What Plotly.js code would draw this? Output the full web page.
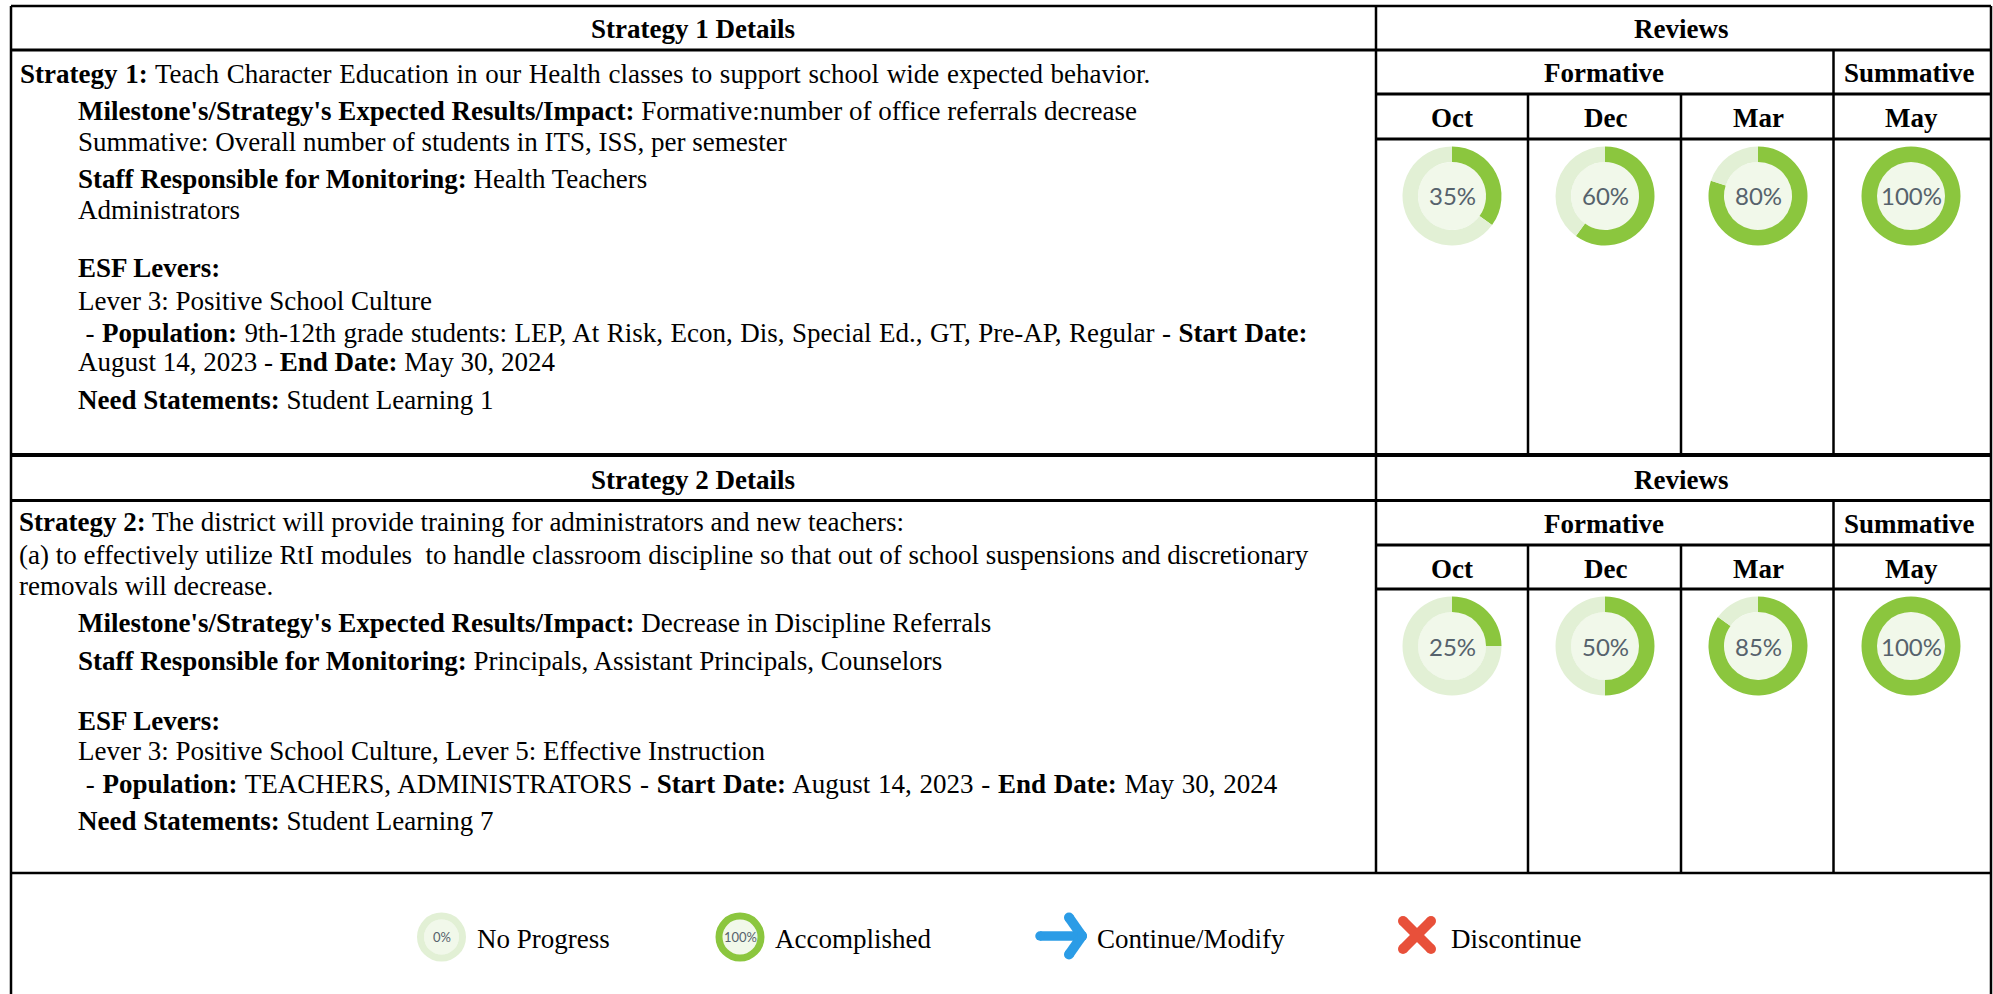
<!DOCTYPE html>
<html><head><meta charset="utf-8">
<script src="https://cdn.plot.ly/plotly-3.0.1.min.js"></script>
<style>html,body{margin:0;padding:0;background:#fff}#c{width:1993px;height:994px}</style>
</head><body><div id="c"></div>
<script>
const months = ['Oct','Dec','Mar','May'];
const strategy1Progress = [35,60,80,100];
const strategy2Progress = [25,50,85,100];
const legendLabels = ['No Progress','Accomplished','Continue/Modify','Discontinue'];
const legendProgress = [0,100];
const strategy1Lines = [
 "<b>Strategy 1:</b> Teach Character Education in our Health classes to support school wide expected behavior.",
 "<b>Milestone's/Strategy's Expected Results/Impact:</b> Formative:number of office referrals decrease",
 "Summative: Overall number of students in ITS, ISS, per semester",
 "<b>Staff Responsible for Monitoring:</b> Health Teachers",
 "Administrators",
 "<b>ESF Levers:</b>",
 "Lever 3: Positive School Culture",
 " - <b>Population:</b> 9th-12th grade students: LEP, At Risk, Econ, Dis, Special Ed., GT, Pre-AP, Regular - <b>Start Date:</b>",
 "August 14, 2023 - <b>End Date:</b> May 30, 2024",
 "<b>Need Statements:</b> Student Learning 1"];
const strategy2Lines = [
 "<b>Strategy 2:</b> The district will provide training for administrators and new teachers:",
 "(a) to effectively utilize RtI modules  to handle classroom discipline so that out of school suspensions and discretionary",
 "removals will decrease.",
 "<b>Milestone's/Strategy's Expected Results/Impact:</b> Decrease in Discipline Referrals",
 "<b>Staff Responsible for Monitoring:</b> Principals, Assistant Principals, Counselors",
 "<b>ESF Levers:</b>",
 "Lever 3: Positive School Culture, Lever 5: Effective Instruction",
 " - <b>Population:</b> TEACHERS, ADMINISTRATORS - <b>Start Date:</b> August 14, 2023 - <b>End Date:</b> May 30, 2024",
 "<b>Need Statements:</b> Student Learning 7"];

const W=1993,H=994, SERIF='"Liberation Serif","Times New Roman",serif', SANS='Lato,"Open Sans",sans-serif';
const GREEN='#8BC63E',TRACK='#E2F0D5',CORE='#F1F8EA';
const px=x=>x/W, py=y=>1-y/H;
const shapes=[],ann=[],data=[];
function line(x0,y0,x1,y1,w,c){shapes.push({type:'line',xref:'paper',yref:'paper',x0:px(x0),x1:px(x1),y0:py(y0),y1:py(y1),line:{color:c||'#000',width:w||2}});}
function dot(cx,cy,r,c){shapes.push({type:'circle',xref:'paper',yref:'paper',x0:px(cx-r),x1:px(cx+r),y0:py(cy+r),y1:py(cy-r),fillcolor:c,line:{width:0}});}
function stroke(x0,y0,x1,y1,w,c){line(x0,y0,x1,y1,w,c);dot(x0,y0,w/2,c);dot(x1,y1,w/2,c);}
function txt(x,y,t,o){o=o||{};ann.push({xref:'paper',yref:'paper',x:px(x),y:py(y),text:t,showarrow:false,xanchor:o.anchor||'left',yanchor:'middle',align:o.anchor==='center'?'center':'left',
  font:{family:o.family||SERIF,size:o.size||27,color:o.color||'#000'},borderpad:0});}
function donut(cx,cy,r,v,fs,ri){
  const rin=ri||r*0.69;
  shapes.push({type:'circle',layer:'below',xref:'paper',yref:'paper',x0:px(cx-rin),x1:px(cx+rin),y0:py(cy+rin),y1:py(cy-rin),fillcolor:CORE,line:{width:0}});
  data.push({type:'pie',values:[v,100-v],sort:false,direction:'clockwise',rotation:0,hole:rin/r,textinfo:'none',hoverinfo:'skip',showlegend:false,
    marker:{colors:[GREEN,TRACK],line:{width:0}},domain:{x:[px(cx-r),px(cx+r)],y:[py(cy+r),py(cy-r)]}});
  txt(cx,cy,v+'%',{anchor:'center',family:SANS,size:fs,color:'#56626C'});
}
const L=11,R=1991,CR=1376,cols=[1528,1681,1833.5];
const colC=[1452,1605,1758,1911];
function block(top,rows,vals,det,lines,ys,bottom){
  line(L,rows[0],R,rows[0],top===0?2.5:4);
  line(L,rows[1],R,rows[1],3);
  line(CR,rows[3],R,rows[3],3);
  line(CR,rows[4],R,rows[4],3);
  line(CR,rows[0],CR,bottom,2.5);
  line(cols[0],rows[3],cols[0],bottom,2.5);
  line(cols[1],rows[3],cols[1],bottom,2.5);
  line(cols[2],rows[2],cols[2],bottom,2.5);
  const h=(a,b)=>(a+b)/2;
  txt(693,h(rows[0],rows[1])+(top?2:1.5),det,{anchor:'center'});
  txt(1680.5,h(rows[0],rows[1])+(top?2:1.5),'<b>Reviews</b>',{anchor:'center'});
  txt(1604,h(rows[2],rows[3])+1,'<b>Formative</b>',{anchor:'center'});
  txt(1909.5,h(rows[2],rows[3])+1,'<b>Summative</b>',{anchor:'center'});
  months.forEach((m,i)=>{
    txt(colC[i],h(rows[3],rows[4])+1.5,'<b>'+m+'</b>',{anchor:'center'});
    donut(colC[i],rows[4]+57,49.5,vals[i],24,34);
  });
  lines.forEach((t,i)=>txt(ys[i][0],ys[i][1],t,{}));
}
block(0,[6,50,50,94,139],strategy1Progress,'<b>Strategy 1 Details</b>',strategy1Lines,
 [[19,74],[77,111],[77,142],[77,179],[77,210],[77,268],[77,301],[77,333],[77,362],[77,400]],455);
block(1,[455,500.5,500.5,545,589],strategy2Progress,'<b>Strategy 2 Details</b>',strategy2Lines,
 [[18,522],[18,555],[18,586],[77,623],[77,661],[77,721],[77,751],[77,784],[77,821]],873);
// outer frame
line(L,6,L,994,2.5); line(R,6,R,994,2.5); line(L,873,R,873,2.5);

// legend
donut(441.5,937,24.5,legendProgress[0],13,17.5);
donut(740,937,24.5,legendProgress[1],13,17.5);
const BLUE='#2B9CE6',RED='#E8503A';
stroke(1040,936,1080,936,9.5,BLUE);
stroke(1069,917.5,1082,936,10,BLUE);
stroke(1069,954.5,1082,936,10,BLUE);
stroke(1403,921,1431,949,10,RED);
stroke(1403,949,1431,921,10,RED);
const lx=[476,774,1096,1450];
legendLabels.forEach((t,i)=>txt(lx[i],939,t,{}));

// the wider word spacing of a few long lines of the reference
const wideWords=[['Strategy 1:',0.95],['- Population: 9th',0.75],['- Population: TEACHERS',1]];
Plotly.newPlot('c',data,{width:W,height:H,margin:{l:0,r:0,t:0,b:0,pad:0},paper_bgcolor:'#fff',plot_bgcolor:'#fff',shapes:shapes,annotations:ann,showlegend:false},{displayModeBar:false,staticPlot:true}).then(gd=>{
  gd.querySelectorAll('.annotation-text').forEach(el=>{
    const s=el.textContent.trim();
    wideWords.forEach(([p,w])=>{ if(s.startsWith(p)) el.style.wordSpacing=w+'px'; });
  });
});
</script></body></html>
